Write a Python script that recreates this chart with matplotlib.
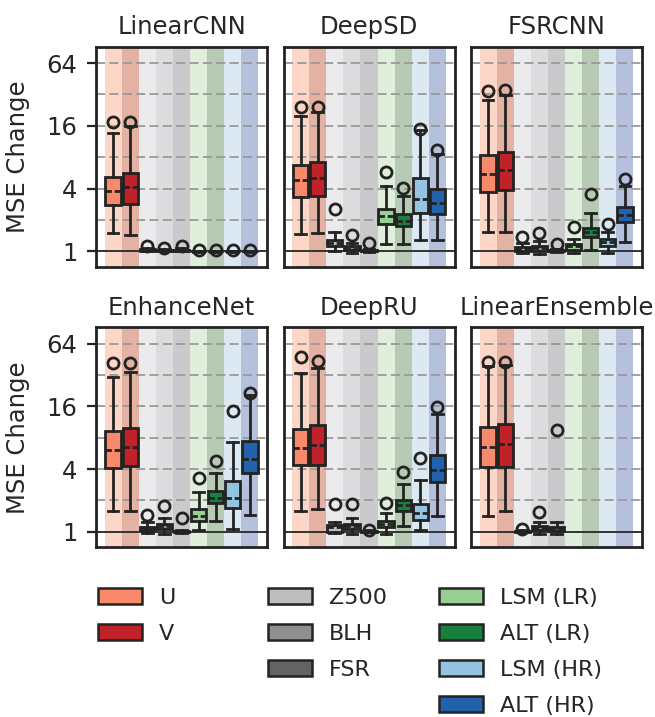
import matplotlib
matplotlib.use("Agg")
import matplotlib.pyplot as plt
from matplotlib.patches import Patch
from matplotlib.ticker import FixedLocator, FixedFormatter, NullFormatter

plt.rcParams['font.family'] = ['DejaVu Sans']

models = ["LinearCNN", "DeepSD", "FSRCNN", "EnhanceNet", "DeepRU", "LinearEnsemble"]
variables = ["U", "V", "Z500", "BLH", "FSR", "LSM (LR)", "ALT (LR)", "LSM (HR)", "ALT (HR)"]

box_colors = ["#f8896b", "#c0222a", "#bebec1", "#8f8f92", "#636365",
              "#98cf92", "#187f3d", "#95c4e2", "#2262ad"]
band_colors = ["#fcd6c7", "#e3b2a2", "#ebebed", "#dcdcde", "#cacacc",
               "#e0eedc", "#b7cab3", "#dde9f2", "#b5c0dd"]

# per-model box statistics (MSE change), order as in `variables`
linearcnn_lo = [1.49, 1.44, 1.00, 1.00, 1.00, 0.99, 0.99, 0.99, 0.99]
linearcnn_q1 = [2.80, 2.85, 1.01, 1.01, 1.00, 1.00, 1.00, 1.00, 1.00]
linearcnn_med = [3.80, 4.10, 1.02, 1.02, 1.01, 1.00, 1.00, 1.00, 1.00]
linearcnn_q3 = [5.20, 5.60, 1.04, 1.03, 1.02, 1.005, 1.005, 1.005, 1.005]
linearcnn_hi = [13.5, 15.8, 1.08, 1.06, 1.08, 1.01, 1.01, 1.01, 1.01]
linearcnn_fl = [17.4, 17.4, 1.12, 1.08, 1.12, 1.02, 1.02, 1.02, 1.02]

deepsd_lo = [1.47, 1.50, 1.00, 0.97, 0.98, 1.16, 1.17, 1.27, 1.29]
deepsd_q1 = [3.30, 3.40, 1.13, 1.02, 1.00, 1.83, 1.74, 2.32, 2.29]
deepsd_med = [4.80, 5.10, 1.20, 1.06, 1.01, 2.20, 1.97, 3.19, 2.92]
deepsd_q3 = [6.80, 7.20, 1.29, 1.12, 1.02, 2.56, 2.29, 5.00, 3.92]
deepsd_hi = [19.8, 21.7, 1.52, 1.20, 1.04, 4.20, 3.38, 14.5, 8.60]
deepsd_fl = [24.3, 24.3, 2.56, 1.44, 1.20, 5.80, 4.07, 15.0, 9.45]

fsrcnn_lo = [1.52, 1.53, 0.96, 0.95, 0.98, 0.96, 1.02, 0.97, 1.22]
fsrcnn_q1 = [3.69, 3.84, 1.00, 1.00, 1.00, 1.03, 1.36, 1.13, 1.90]
fsrcnn_med = [5.55, 6.06, 1.06, 1.07, 1.01, 1.12, 1.52, 1.22, 2.25]
fsrcnn_q3 = [8.46, 8.95, 1.09, 1.12, 1.03, 1.17, 1.68, 1.30, 2.65]
fsrcnn_hi = [28.1, 31.4, 1.20, 1.26, 1.06, 1.30, 2.32, 1.52, 4.20]
fsrcnn_fl = [34.4, 35.0, 1.36, 1.50, 1.18, 1.70, 3.56, 1.83, 4.97]

enhancenet_lo = [1.59, 1.57, 0.98, 0.96, 0.98, 1.03, 1.26, 1.07, 1.46]
enhancenet_q1 = [4.10, 4.30, 1.03, 1.06, 1.00, 1.28, 1.89, 1.71, 3.67]
enhancenet_med = [6.05, 6.50, 1.08, 1.14, 1.01, 1.43, 2.11, 2.11, 5.00]
enhancenet_q3 = [9.20, 9.90, 1.12, 1.20, 1.02, 1.66, 2.44, 3.05, 7.50]
enhancenet_hi = [30.7, 34.0, 1.23, 1.35, 1.04, 2.41, 3.67, 7.30, 20.5]
enhancenet_fl = [41.9, 41.9, 1.46, 1.78, 1.35, 3.28, 4.82, 14.4, 21.3]

deepru_lo = [1.57, 1.66, 0.97, 0.96, 0.99, 0.95, 1.14, 1.03, 1.43]
deepru_q1 = [4.34, 4.34, 1.00, 1.06, 1.00, 1.10, 1.59, 1.30, 3.00]
deepru_med = [6.38, 6.87, 1.10, 1.14, 1.01, 1.20, 1.82, 1.50, 3.89]
deepru_q3 = [9.80, 10.5, 1.15, 1.20, 1.02, 1.27, 2.03, 1.86, 5.50]
deepru_hi = [33.6, 37.0, 1.25, 1.37, 1.03, 1.50, 2.90, 3.16, 13.5]
deepru_fl = [47.8, 43.4, 1.86, 1.86, 1.04, 1.89, 3.72, 5.10, 15.8]

linearensemble_lo = [1.42, 1.57, 0.99, 0.96, 0.95]
linearensemble_q1 = [4.15, 4.20, 1.00, 1.03, 1.02]
linearensemble_med = [6.47, 6.97, 1.01, 1.08, 1.07]
linearensemble_q3 = [10.1, 10.9, 1.02, 1.13, 1.12]
linearensemble_hi = [38.9, 40.0, 1.04, 1.23, 1.25]
linearensemble_fl = [42.8, 42.8, 1.07, 1.55, 9.60]

stats = {
    "LinearCNN": (linearcnn_lo, linearcnn_q1, linearcnn_med, linearcnn_q3, linearcnn_hi, linearcnn_fl),
    "DeepSD": (deepsd_lo, deepsd_q1, deepsd_med, deepsd_q3, deepsd_hi, deepsd_fl),
    "FSRCNN": (fsrcnn_lo, fsrcnn_q1, fsrcnn_med, fsrcnn_q3, fsrcnn_hi, fsrcnn_fl),
    "EnhanceNet": (enhancenet_lo, enhancenet_q1, enhancenet_med, enhancenet_q3, enhancenet_hi, enhancenet_fl),
    "DeepRU": (deepru_lo, deepru_q1, deepru_med, deepru_q3, deepru_hi, deepru_fl),
    "LinearEnsemble": (linearensemble_lo, linearensemble_q1, linearensemble_med,
                       linearensemble_q3, linearensemble_hi, linearensemble_fl),
}

W, H = 655, 717
fig = plt.figure(figsize=(W / 100, H / 100), dpi=100)

EDGE = "#232323"
TXT = "#262626"
LW = 2.0
FS = 17.5
col_left = [96, 283.5, 471]
row_top = [46.7, 327.3]
ax_w, ax_h = 171, 220

for k, name in enumerate(models):
    r, c = divmod(k, 3)
    ax = fig.add_axes([col_left[c] / W, (H - row_top[r] - ax_h) / H, ax_w / W, ax_h / H])
    ax.set_yscale('log', base=2)
    ax.set_xlim(-1, 9)
    ax.set_ylim(0.71, 92)
    for i, bc in enumerate(band_colors):
        ax.axvspan(i - 0.5, i + 0.5, color=bc, lw=0, zorder=0)
    for yv in [2, 4, 8, 16, 32, 64]:
        ax.axhline(yv, color="#999999", lw=1.3, ls=(0, (5.0, 2.4)), zorder=1.5)
    ax.axhline(1, color="#333333", lw=1.4, zorder=1.6)

    lo, q1, med, q3, hi, fl = stats[name]
    bxs = []
    for i in range(len(lo)):
        bxs.append(dict(whislo=lo[i], q1=q1[i], med=med[i], q3=q3[i], whishi=hi[i],
                        fliers=[fl[i]]))
    n = len(bxs)
    art = ax.bxp(bxs, positions=list(range(n)), widths=0.9, patch_artist=True,
                 showfliers=True, capwidths=0.62, manage_ticks=False,
                 boxprops=dict(edgecolor=EDGE, linewidth=LW),
                 whiskerprops=dict(color=EDGE, linewidth=LW),
                 capprops=dict(color=EDGE, linewidth=LW),
                 medianprops=dict(color=EDGE, linewidth=LW, linestyle=(0, (2.3, 1.0))),
                 flierprops=dict(marker='o', markerfacecolor='none', markeredgecolor=EDGE,
                                 markersize=8, markeredgewidth=2.0))
    for patch, col in zip(art['boxes'], box_colors):
        patch.set_facecolor(col)
    for key in ['boxes', 'whiskers', 'caps', 'medians', 'fliers']:
        for a in art[key]:
            a.set_zorder(3)

    ax.set_xticks([])
    ax.yaxis.set_major_locator(FixedLocator([1, 4, 16, 64]))
    ax.yaxis.set_major_formatter(FixedFormatter(["1", "4", "16", "64"]))
    ax.yaxis.set_minor_locator(FixedLocator([2, 8, 32]))
    ax.yaxis.set_minor_formatter(NullFormatter())
    ax.tick_params(axis='y', which='major', length=6.5, width=1.6, pad=7,
                   labelsize=FS, color=EDGE, labelcolor=TXT)
    ax.tick_params(axis='y', which='minor', length=0)
    if c != 0:
        ax.tick_params(axis='y', which='major', length=0, labelleft=False)
    for sp in ax.spines.values():
        sp.set_linewidth(2.0)
        sp.set_color(EDGE)
    ax.set_title(name, fontsize=FS, pad=9, color=TXT)

for r in range(2):
    fig.text(18 / W, (H - row_top[r] - ax_h / 2) / H, "MSE Change", rotation=90,
             ha='center', va='center', fontsize=FS, color=TXT)

groups = [[0, 1], [2, 3, 4], [5, 6, 7, 8]]
leg_x = [98, 268, 439]
for g, x0 in zip(groups, leg_x):
    handles = [Patch(facecolor=box_colors[i], edgecolor=EDGE, linewidth=1.8) for i in g]
    labels = [variables[i] for i in g]
    fig.legend(handles, labels, loc='upper left', bbox_to_anchor=(x0 / W, (H - 588) / H),
               frameon=False, fontsize=16, borderpad=0, borderaxespad=0,
               handlelength=2.0, handleheight=0.75, handletextpad=0.75, labelspacing=0.72,
               labelcolor=TXT)

fig.savefig("out.png", dpi=100)
